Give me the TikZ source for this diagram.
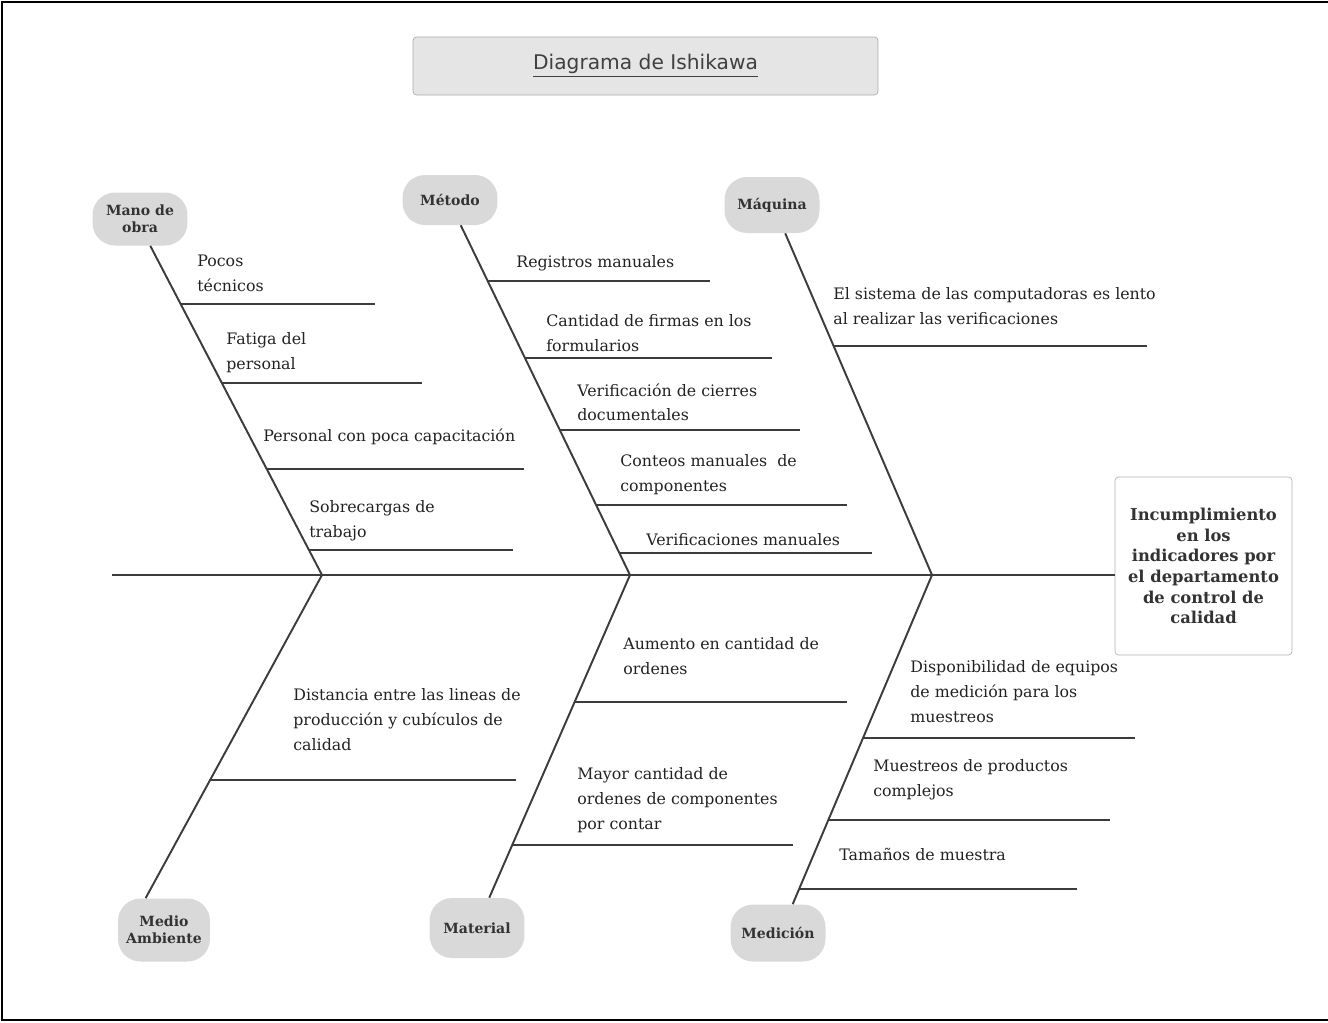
\documentclass[tikz,border=0pt]{standalone}
\usepackage{fontspec}
\setmainfont{DejaVu Serif}
\newfontfamily\titlefont{DejaVu Sans}
\usepackage{tikz}
\definecolor{boneline}{HTML}{3C3C3C}
\definecolor{blobfill}{HTML}{D9D9D9}
\definecolor{txtcol}{HTML}{222222}

\begin{document}
\begin{tikzpicture}[x=0.02cm,y=-0.02cm,
	bone/.style={draw=boneline,line width=1.1pt},
	cause/.style={fill=blobfill,rounded corners=0.45cm,minimum width=1.9cm,minimum height=1.06cm,inner sep=0pt,align=center,text=black!80,font=\bfseries\fontsize{8}{9.6}\selectfont},
	causetxt/.style={anchor=north west,inner sep=0pt,align=left,text=txtcol,font=\fontsize{9}{14.2}\selectfont},
	titlebox/.style={draw=gray!65,fill=gray!20,rounded corners=2pt,minimum width=9.3cm,minimum height=1.16cm,text=black!75,font=\titlefont\fontsize{11.5}{13}\selectfont},
	effectbox/.style={draw=gray!60,rounded corners=2pt,minimum width=3.54cm,minimum height=3.56cm,inner sep=0pt,align=center,text=black!80,font=\bfseries\fontsize{9.3}{11.8}\selectfont}]
		\useasboundingbox (0,0) rectangle (1328,1022);
		\draw[line width=1.3pt] (1328,2) -- (2,2) -- (2,1020) -- (1328,1020);
		\node[titlebox] (title) at (645.5,66) {\underline{Diagrama de Ishikawa}};
		\node[cause] (mano) at (140,219) {Mano de\\obra};
		\node[cause,minimum height=1cm] (metodo) at (450,200) {Método};
		\node[cause,minimum height=1.12cm] (maquina) at (772,205) {Máquina};
		\node[cause,minimum width=1.84cm,minimum height=1.26cm] (medio) at (164,930) {Medio\\Ambiente};
		\node[cause,minimum height=1.2cm] (material) at (477,928) {Material};
		\node[cause,minimum height=1.14cm] (medicion) at (778,933) {Medición};
		\node[effectbox] (efecto) at (1203.5,566) {Incumplimiento\\en los\\indicadores por\\el departamento\\de control de\\calidad};
		\coordinate (cola) at (112,575);
		\coordinate (j1) at (322,575);
		\coordinate (j2) at (630,575);
		\coordinate (j3) at (932,575);
		\draw[bone] (cola) to (cola -| efecto.west);
		\draw[bone] (mano.-69) to (j1);
		\draw[bone] (metodo.-67) to (j2);
		\draw[bone] (maquina.-65) to (j3);
		\draw[bone] (medio.120) to (j1);
		\draw[bone] (material.68) to (j2);
		\draw[bone] (medicion.63) to (j3);
		\coordinate (s1a) at (181,304); \coordinate (s1b) at (375,304);
		\coordinate (s2a) at (222,383); \coordinate (s2b) at (422,383);
		\coordinate (s3a) at (267,469); \coordinate (s3b) at (524,469);
		\coordinate (s4a) at (309,550); \coordinate (s4b) at (513,550);
		\coordinate (s5a) at (488,281); \coordinate (s5b) at (710,281);
		\coordinate (s6a) at (525,358); \coordinate (s6b) at (772,358);
		\coordinate (s7a) at (560,430); \coordinate (s7b) at (800,430);
		\coordinate (s8a) at (596,505); \coordinate (s8b) at (847,505);
		\coordinate (s9a) at (619,553); \coordinate (s9b) at (872,553);
		\coordinate (s10a) at (834,346); \coordinate (s10b) at (1147,346);
		\coordinate (s11a) at (210,780); \coordinate (s11b) at (516,780);
		\coordinate (s12a) at (575,702); \coordinate (s12b) at (847,702);
		\coordinate (s13a) at (512,845); \coordinate (s13b) at (793,845);
		\coordinate (s14a) at (863,738); \coordinate (s14b) at (1135,738);
		\coordinate (s15a) at (828,820); \coordinate (s15b) at (1110,820);
		\coordinate (s16a) at (799,889); \coordinate (s16b) at (1077,889);
		\draw[bone] (s1a) to (s1b);
		\draw[bone] (s2a) to (s2b);
		\draw[bone] (s3a) to (s3b);
		\draw[bone] (s4a) to (s4b);
		\draw[bone] (s5a) to (s5b);
		\draw[bone] (s6a) to (s6b);
		\draw[bone] (s7a) to (s7b);
		\draw[bone] (s8a) to (s8b);
		\draw[bone] (s9a) to (s9b);
		\draw[bone] (s10a) to (s10b);
		\draw[bone] (s11a) to (s11b);
		\draw[bone] (s12a) to (s12b);
		\draw[bone] (s13a) to (s13b);
		\draw[bone] (s14a) to (s14b);
		\draw[bone] (s15a) to (s15b);
		\draw[bone] (s16a) to (s16b);
		\node[causetxt] (t1) at (197,255) {Pocos\\técnicos};
		\node[causetxt] (t2) at (226,332) {Fatiga del\\personal};
		\node[causetxt] (t3) at (263,428) {Personal con poca capacitación};
		\node[causetxt] (t4) at (309,500) {Sobrecargas de\\trabajo};
		\node[causetxt] (t5) at (516,255) {Registros manuales};
		\node[causetxt] (t6) at (546,314) {Cantidad de firmas en los\\formularios};
		\node[causetxt] (t7) at (577,383) {Verificación de cierres\\documentales};
		\node[causetxt] (t8) at (620,454) {Conteos manuales\ \ de\\componentes};
		\node[causetxt] (t9) at (646,533) {Verificaciones manuales};
		\node[causetxt] (t10) at (833,287) {El sistema de las computadoras es lento\\al realizar las verificaciones};
		\node[causetxt] (t11) at (293,688) {Distancia entre las lineas de\\producción y cubículos de\\calidad};
		\node[causetxt] (t12) at (623,637) {Aumento en cantidad de\\ordenes};
		\node[causetxt] (t13) at (577,767) {Mayor cantidad de\\ordenes de componentes\\por contar};
		\node[causetxt] (t14) at (910,660) {Disponibilidad de equipos\\de medición para los\\muestreos};
		\node[causetxt] (t15) at (873,759) {Muestreos de productos\\complejos};
		\node[causetxt] (t16) at (839,848) {Tamaños de muestra};
\end{tikzpicture}
\end{document}
